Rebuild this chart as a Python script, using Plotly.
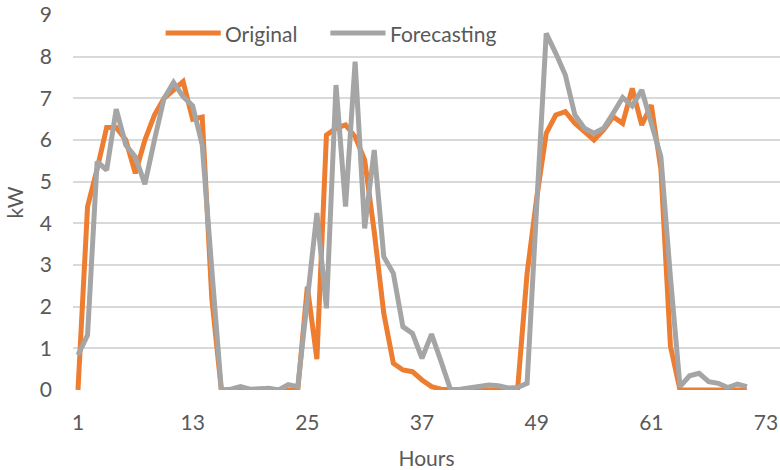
import plotly.graph_objects as go

# Hourly load profile: measured vs. forecast (kW)
hours = list(range(1, 72))

original = [
    0.0, 4.4, 5.3, 6.3, 6.3, 6.0, 5.2, 6.0, 6.6, 7.0,
    7.2, 7.4, 6.5, 6.55, 2.2, 0.0, 0.0, 0.0, 0.0, 0.0,
    0.0, 0.0, 0.0, 0.0, 2.48, 0.74, 6.12, 6.28, 6.36, 6.08,
    5.52, 3.8, 1.84, 0.64, 0.48, 0.44, 0.24, 0.08, 0.02, 0.0,
    0.0, 0.0, 0.0, 0.0, 0.0, 0.0, 0.0, 2.8, 4.6, 6.16,
    6.6, 6.68, 6.4, 6.2, 6.0, 6.24, 6.56, 6.4, 7.24, 6.36,
    6.84, 5.3, 1.05, 0.0, 0.0, 0.0, 0.0, 0.0, 0.0, 0.0,
    0.0,
]

forecasting = [
    0.84, 1.32, 5.48, 5.28, 6.74, 5.88, 5.6, 4.94, 6.0, 7.0,
    7.38, 7.04, 6.82, 5.88, 2.9, 0.0, 0.02, 0.08, 0.02, 0.04,
    0.04, 0.0, 0.13, 0.08, 2.1, 4.25, 1.96, 7.32, 4.4, 7.88,
    3.88, 5.76, 3.2, 2.8, 1.52, 1.36, 0.76, 1.34, 0.68, 0.0,
    0.02, 0.06, 0.1, 0.12, 0.1, 0.05, 0.06, 0.16, 4.4, 8.56,
    8.08, 7.56, 6.6, 6.28, 6.16, 6.28, 6.64, 7.02, 6.82, 7.2,
    6.4, 5.6, 2.7, 0.08, 0.34, 0.4, 0.2, 0.16, 0.06, 0.14,
    0.08,
]

x_ticks = [1, 13, 25, 37, 49, 61, 73]
y_ticks = list(range(0, 10))

ORANGE = "#ED7D31"
GREY = "#A5A5A5"
TEXT = "#595959"
FONT = "Lato"

fig = go.Figure()
fig.add_trace(go.Scatter(x=hours, y=original, mode="lines", name="Original",
                         line=dict(color=ORANGE, width=5)))
fig.add_trace(go.Scatter(x=hours, y=forecasting, mode="lines", name="Forecasting",
                         line=dict(color=GREY, width=5)))

# Legend drawn as wide line swatches with labels, centred above the plot
legend_items = [("Original", ORANGE, 0.131, 0.209), ("Forecasting", GREY, 0.364, 0.442)]
for label, color, x0, x1 in legend_items:
    fig.add_shape(type="line", xref="paper", yref="paper", x0=x0, x1=x1,
                  y0=0.952, y1=0.952, line=dict(color=color, width=5))
    fig.add_annotation(text=label, xref="paper", yref="paper", x=x1 + 0.003, y=0.952,
                       xanchor="left", yanchor="middle", showarrow=False,
                       font=dict(family=FONT, size=21, color=TEXT))

fig.update_layout(
    width=780, height=470,
    margin=dict(l=73, r=0, t=15, b=80),
    paper_bgcolor="white", plot_bgcolor="white",
    showlegend=False,
    font=dict(family=FONT, size=20, color=TEXT),
)
fig.update_xaxes(
    range=[0.477, 74.465], tickvals=x_ticks, ticktext=[str(v) for v in x_ticks],
    showgrid=False, zeroline=False, showline=False, ticks="",
    ticklabelstandoff=18,
    title=dict(text="Hours", font=dict(family=FONT, size=21, color=TEXT), standoff=22),
    tickfont=dict(family=FONT, size=21, color=TEXT),
)
fig.update_yaxes(
    range=[0, 9], tickvals=y_ticks,
    showgrid=True, gridcolor="#D9D9D9", gridwidth=2,
    zeroline=False, showline=False, ticks="",
    ticklabelstandoff=20,
    title=dict(text="kW", font=dict(family=FONT, size=21, color=TEXT), standoff=10),
    tickfont=dict(family=FONT, size=21, color=TEXT),
)

fig.write_html("out.html")
